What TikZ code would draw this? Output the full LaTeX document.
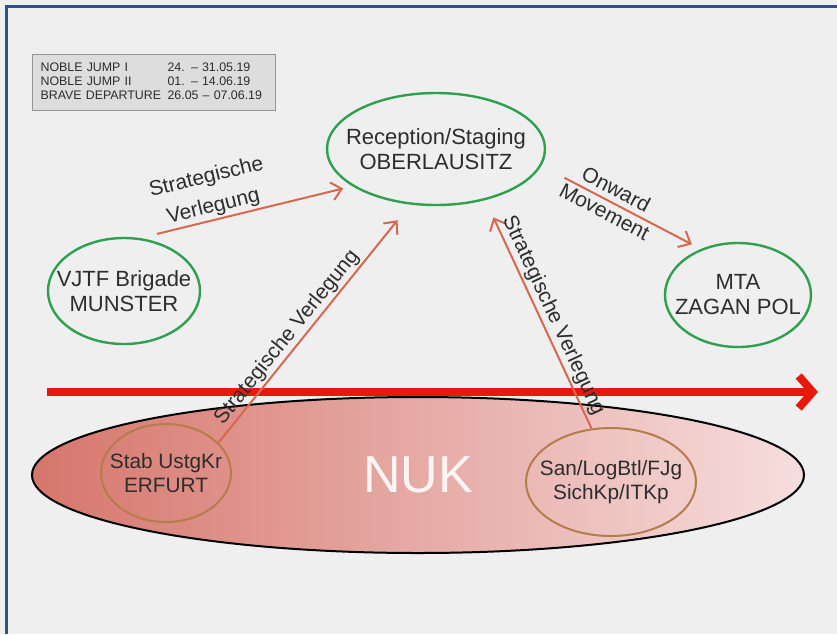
\documentclass[tikz,border=0pt]{standalone}
\usepackage{fontspec}
\setmainfont{Liberation Sans}
\usetikzlibrary{shapes.geometric,arrows.meta}

\definecolor{bggray}{RGB}{239,239,239}
\definecolor{frameblue}{RGB}{47,79,143}
\definecolor{placegreen}{RGB}{46,160,80}
\definecolor{unitbrown}{RGB}{180,125,75}
\definecolor{movered}{RGB}{214,104,80}
\definecolor{timered}{RGB}{232,24,12}
\definecolor{nukleft}{RGB}{214,118,108}
\definecolor{nukright}{RGB}{246,222,222}
\definecolor{textgray}{RGB}{45,45,45}
\definecolor{legendfill}{RGB}{221,221,221}
\definecolor{legendline}{RGB}{150,150,150}

\begin{document}
\begin{tikzpicture}[x=0.5pt, y=-0.5pt,
    place/.style={ellipse, draw=placegreen, line width=1.2pt, inner xsep=-8pt, inner ysep=0pt, align=center, text=textgray, font=\fontsize{11}{12.5}\selectfont},
    unit/.style={ellipse, draw=unitbrown, line width=1pt, inner xsep=-8pt, inner ysep=0pt, align=center, text=textgray, font=\fontsize{10.4}{12}\selectfont},
    move/.style={draw=movered, line width=1pt, -{Straight Barb[length=5pt,width=9pt]}},
    movelabel/.style={sloped, inner sep=1pt, align=center, text=textgray, font=\fontsize{10.5}{12.5}\selectfont},
    timeline/.style={draw=timered, line width=4pt, -{Straight Barb[length=7pt,width=16pt]}}]
        \useasboundingbox (0,0) rectangle (837,634);
        \fill[bggray] (0,0) rectangle (837,634);
        \draw[frameblue, line width=1.5pt] (6,634) -- (6,6) -- (837,6);

        % Legend
        \node (legend) [draw=legendline, fill=legendfill, line width=0.6pt, anchor=north west, text width=113.5pt, inner xsep=4pt, inner ysep=0pt, minimum height=28pt, text=textgray, font=\fontsize{6.2}{7}\selectfont] at (32,54) {\begin{tabular}{@{}p{63.5pt}@{}l@{}}
            NOBLE JUMP I & 24. – 31.05.19\\
            NOBLE JUMP II & 01. – 14.06.19\\
            BRAVE DEPARTURE & 26.05 – 07.06.19
        \end{tabular}};

        % NUK
        \node (nuk) [ellipse, draw=black, line width=1pt, shading=axis, left color=nukleft, right color=nukright, inner sep=0pt, minimum width=386pt, minimum height=78pt, text=white!96!red, font=\fontsize{26}{28}\selectfont] at (418,475) {NUK};
        \node (stab) [unit, minimum width=65pt, minimum height=49pt] at (166,473) {Stab UstgKr\\ERFURT};
        \node (san) [unit, minimum width=85pt, minimum height=54pt] at (611,482) {San/LogBtl/FJg\\SichKp/ITKp};

        % Time line
        \coordinate (tl0) at (47,392);
        \coordinate (tl1) at (818,392);
        \draw[timeline] (tl0) -- (tl1);

        % Places
        \node (reception) [place, minimum width=109pt, minimum height=56pt] at (436,149) {Reception/Staging\\OBERLAUSITZ};
        \node (vjtf) [place, minimum width=76pt, minimum height=53pt] at (124,291) {VJTF Brigade\\MUNSTER};
        \node (mta) [place, minimum width=73pt, minimum height=52pt] at (738,295) {MTA\\ZAGAN POL};

        % Movements
        \draw[move, shorten <=8.7pt, shorten >=4.7pt] (vjtf.73) -- node[movelabel, above, pos=0.36] {Strategische\\[2.5pt]Verlegung} (reception.204);
        \draw[move, shorten >=10pt] (stab.30) -- node[movelabel, above, pos=0.41] {Strategische Verlegung} (reception.245);
        \draw[move, shorten >=9.5pt] (san.110) -- node[movelabel, above, pos=0.47] {Strategische Verlegung} (reception.314);
        \draw[move, shorten <=13pt, shorten >=5pt] (reception.351) -- node[movelabel, above=-11pt, pos=0.43] {Onward\\Movement} (mta.129);
\end{tikzpicture}
\end{document}
